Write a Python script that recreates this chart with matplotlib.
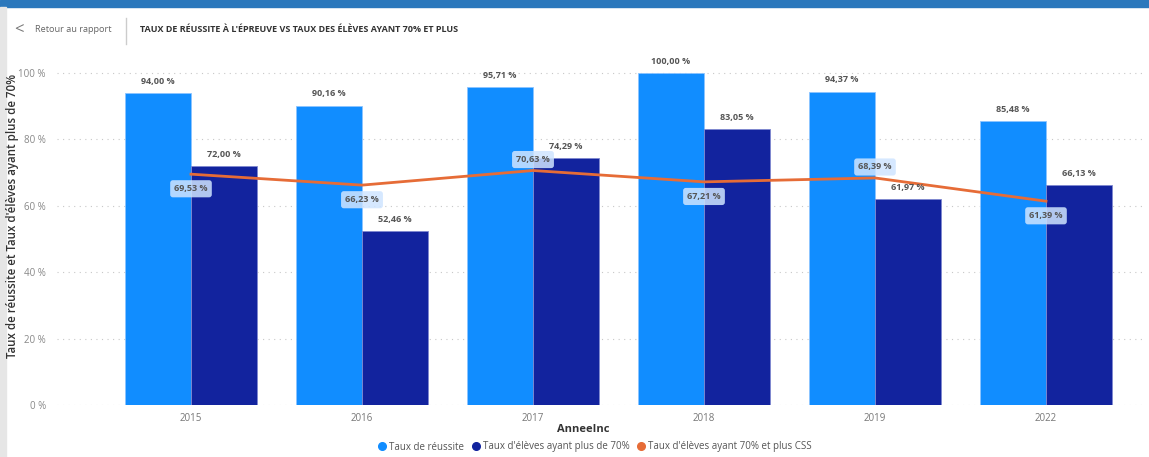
import matplotlib.pyplot as plt
import numpy as np
from matplotlib.lines import Line2D
from matplotlib.patches import Rectangle

plt.rcParams['font.family'] = ['Open Sans', 'DejaVu Sans']

years = ["2015", "2016", "2017", "2018", "2019", "2022"]
taux_reussite = [94.00, 90.16, 95.71, 100.00, 94.37, 85.48]
taux_70 = [72.00, 52.46, 74.29, 83.05, 61.97, 66.13]
taux_70_css = [69.53, 66.23, 70.63, 67.21, 68.39, 61.39]
css_label_above = [False, False, True, False, True, False]
yticks = [0, 20, 40, 60, 80, 100]

c_light = "#118DFF"
c_dark = "#12239E"
c_line = "#E66C37"

W, H = 1149, 457
fig = plt.figure(figsize=(W / 100, H / 100), dpi=100)

# frame decoration (Power BI screenshot)
fig.patches.append(Rectangle((0, 1 - 7 / H), 1, 7 / H, transform=fig.transFigure,
                             color="#2B78BC", zorder=0))
fig.patches.append(Rectangle((0, 0), 6 / W, 1 - 7 / H, transform=fig.transFigure,
                             color="#E6E6E6", zorder=0))
fig.text(14 / W, 1 - 30 / H, "<", fontsize=12, color="#777777", va="center")
fig.text(35 / W, 1 - 30 / H, "Retour au rapport", fontsize=6.6, color="#666666", va="center")
fig.add_artist(Line2D([126 / W, 126 / W], [1 - 18 / H, 1 - 44 / H], color="#CCCCCC", lw=1))
fig.text(140 / W, 1 - 30 / H, "TAUX DE RÉUSSITE À L'ÉPREUVE VS TAUX DES ÉLÈVES AYANT 70% ET PLUS",
         fontsize=6.5, color="#333333", va="center", fontweight="bold")

# axes: 0% at y=405px, top at y=60px
left, right = 57 / W, 1145 / W
bottom, top = 1 - 405 / H, 1 - 60 / H
ax = fig.add_axes([left, bottom, right - left, top - bottom])
x = np.arange(len(years))
ax.set_xlim((57 - 191) / 171, (1145 - 191) / 171)
ax.set_ylim(0, 100 + 13 / 3.32)

for s in ax.spines.values():
    s.set_visible(False)
for t in yticks:
    ax.axhline(t, color="#C8C8C8", lw=0.8, ls=(0, (1, 4)), zorder=0)

bw = 66 / 171
ax.bar(x - bw / 2, taux_reussite, bw, color=c_light, edgecolor="#8CC4FF", lw=0.6, zorder=2)
ax.bar(x + bw / 2, taux_70, bw, color=c_dark, edgecolor="#7F88D0", lw=0.6, zorder=2)
ax.plot(x, taux_70_css, color=c_line, lw=2, zorder=3)

def fmt(v):
    return f"{v:.2f} %".replace(".", ",")

for i in range(len(years)):
    ax.text(x[i] - bw / 2, taux_reussite[i] + 2.2, fmt(taux_reussite[i]), ha="center",
            va="bottom", fontsize=6.5, color="#555555", fontweight="bold", zorder=4)
    ax.text(x[i] + bw / 2, taux_70[i] + 2.2, fmt(taux_70[i]), ha="center",
            va="bottom", fontsize=6.5, color="#555555", fontweight="bold", zorder=4)
    off = 3.3 if css_label_above[i] else -4.4
    ax.text(x[i], taux_70_css[i] + off, fmt(taux_70_css[i]), ha="center", va="center",
            fontsize=6.5, color="#555555", fontweight="bold", zorder=5,
            bbox=dict(boxstyle="round,pad=0.45,rounding_size=0.3", fc="#CFE5FF",
                      ec="none", alpha=0.85))

ax.set_yticks(yticks)
ax.set_yticklabels([f"{t} %" for t in yticks], fontsize=7, color="#888888")
ax.set_xticks(x)
ax.set_xticklabels(years, fontsize=7, color="#777777")
ax.tick_params(length=0, pad=6)
ax.tick_params(axis="y", pad=8)

fig.text(13 / W, 1 - 216 / H, "Taux de réussite et Taux d'élèves ayant plus de 70%",
         rotation=90, ha="center", va="center", fontsize=8.3, color="#333333",
         fontweight="semibold")
fig.text(583 / W, 1 - 429 / H, "AnneeInc", ha="center", va="center", fontsize=8,
         color="#333333", fontweight="bold")

handles = [Line2D([], [], marker="o", ls="", color=c, markersize=5.5)
           for c in (c_light, c_dark, c_line)]
fig.legend(handles, ["Taux de réussite", "Taux d'élèves ayant plus de 70%",
                     "Taux d'élèves ayant 70% et plus CSS"],
           loc="center", bbox_to_anchor=(592 / W, 1 - 447 / H), ncol=3, frameon=False,
           fontsize=7, handletextpad=-0.3, columnspacing=0.2, labelcolor="#555555")

fig.savefig("out.png", dpi=100)
